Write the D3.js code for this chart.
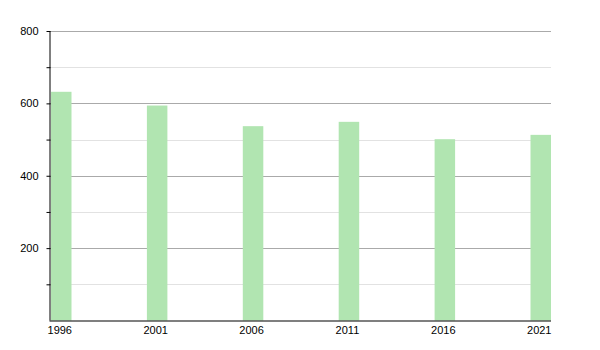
<!DOCTYPE html>
<html><head><meta charset="utf-8">
<script src="https://cdn.jsdelivr.net/npm/d3@7"></script>
<style>body{margin:0;background:#fff}text{font-family:"Liberation Sans",Arial,sans-serif;font-size:11px;fill:#000}</style>
</head><body><svg id="c" width="600" height="350"></svg>
<script>
const years = [1996, 2001, 2006, 2011, 2016, 2021];
const values = [632, 594, 537, 549, 501, 513];
const majorTicks = [200, 400, 600, 800];
const minorTicks = [100, 300, 500, 700];

(function () {
const svg = d3.select("#c");
const mLeft = 50.5, mRight = 551, mTop = 31, mBottom = 320.5;
const barW = 20.5;
const x = d3.scaleLinear().domain([1996, 2021]).range([mLeft + 0.5, mRight - barW]);
const y = d3.scaleLinear().domain([0, 800]).range([mBottom, mTop]);

// minor gridlines
svg.append("g").selectAll("line").data(minorTicks).join("line")
  .attr("x1", mLeft).attr("x2", mRight)
  .attr("y1", d => Math.round(y(d)) + 0.5).attr("y2", d => Math.round(y(d)) + 0.5)
  .attr("stroke", "#e2e2e2").attr("stroke-width", 1);
// major gridlines
svg.append("g").selectAll("line").data(majorTicks).join("line")
  .attr("x1", mLeft).attr("x2", mRight)
  .attr("y1", d => Math.round(y(d)) + 0.5).attr("y2", d => Math.round(y(d)) + 0.5)
  .attr("stroke", "#aaaaaa").attr("stroke-width", 1);

// bars
svg.append("g").selectAll("rect").data(values).join("rect")
  .attr("x", (d, i) => x(years[i]))
  .attr("width", barW)
  .attr("y", d => y(d))
  .attr("height", d => mBottom - y(d))
  .attr("fill", "#b1e5b1");

// y axis
const yAxis = d3.axisLeft(y).tickValues(majorTicks.concat(minorTicks).sort((a,b)=>a-b))
  .tickSize(4).tickFormat(d => majorTicks.includes(d) ? d : "");
const gy = svg.append("g").attr("transform", `translate(${mLeft},0)`).call(yAxis);
gy.select(".domain").attr("d", `M-0.5,${mTop}V${mBottom}`).attr("stroke", "#000");
gy.selectAll(".tick line").attr("stroke", "#000");
gy.selectAll(".tick text").attr("x", -12).style("font-size", "11px").attr("fill", "#000");

// x axis
const xAxis = d3.axisBottom(x).tickValues(years).tickSize(0).tickFormat(d3.format("d"));
const gx = svg.append("g").attr("transform", `translate(0,${mBottom})`).call(xAxis);
gx.select(".domain").attr("d", `M${mLeft - 1},0.5H${mRight}`).attr("stroke", "#000").attr("stroke-width", 1.2);
gx.selectAll(".tick").attr("transform", d => `translate(${x(d) + barW/2 - 1.5},0)`);
gx.selectAll(".tick text").attr("y", 6).style("font-size", "11px").attr("fill", "#000");
})();
</script></body></html>
